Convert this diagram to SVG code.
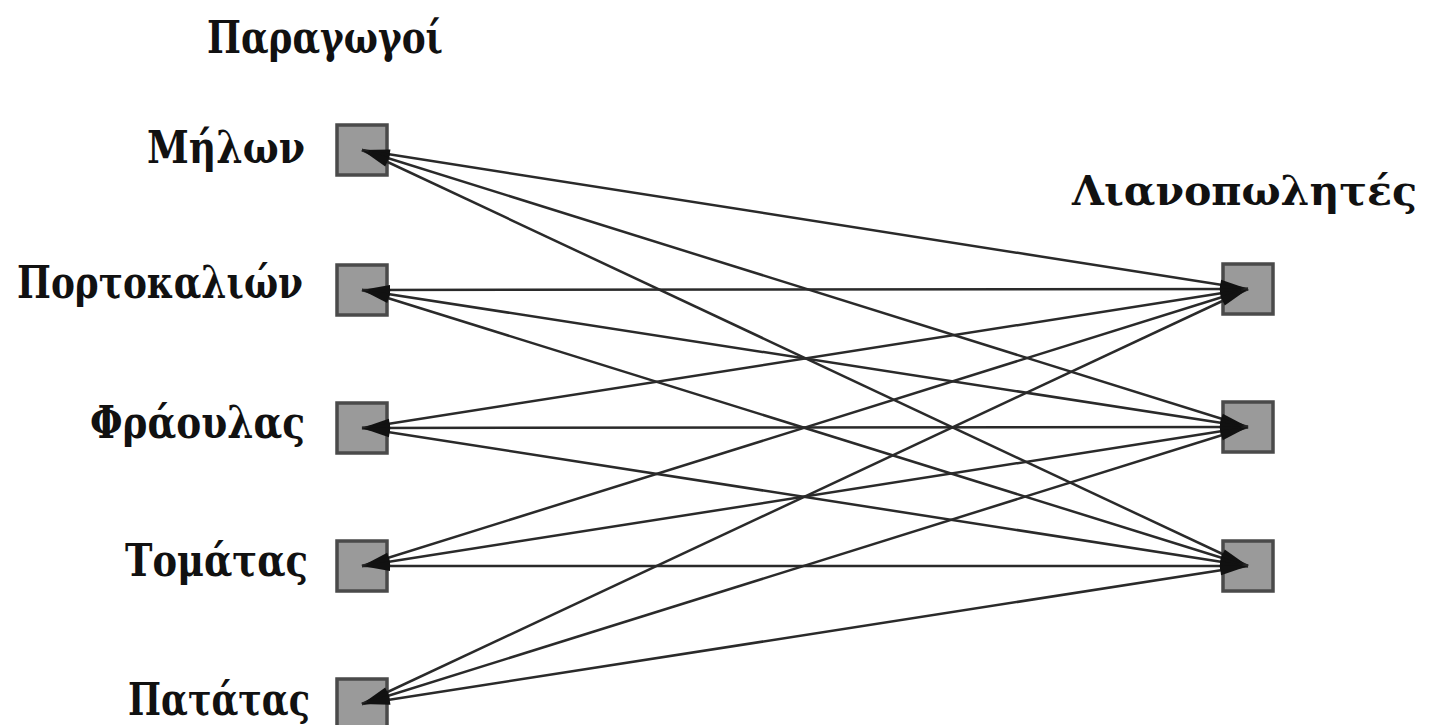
<svg xmlns="http://www.w3.org/2000/svg" width="1435" height="725" viewBox="0 0 1435 725">
<style>
.box{fill:#9a9a9a;stroke:#4a4a4a;stroke-width:3.5}
.lbl{font-family:"DejaVu Serif",serif;font-size:44px;font-weight:bold;fill:#111}
.e{stroke:#2a2a2a;stroke-width:2.5;fill:none;marker-start:url(#ah);marker-end:url(#ah)}
</style>
<defs>
<marker id="ah" markerUnits="userSpaceOnUse" markerWidth="40" markerHeight="20" refX="30" refY="10" orient="auto-start-reverse" viewBox="0 0 40 20">
<path d="M30,10 L2,5 L2,15 Z" fill="#111"/>
</marker>
</defs>
<rect width="1435" height="725" fill="#fff"/>
<text class="lbl" x="207" y="53" textLength="236" lengthAdjust="spacingAndGlyphs">Παραγωγοί</text>
<text class="lbl" x="1072" y="205" style="font-size:41px" textLength="345" lengthAdjust="spacingAndGlyphs">Λιανοπωλητές</text>
<g id="p1"><rect class="box" x="337" y="125" width="50" height="50"/><text class="lbl" x="147" y="163" textLength="158" lengthAdjust="spacingAndGlyphs">Μήλων</text></g>
<g id="p2"><rect class="box" x="337" y="265" width="50" height="50"/><text class="lbl" x="17" y="298" textLength="286" lengthAdjust="spacingAndGlyphs">Πορτοκαλιών</text></g>
<g id="p3"><rect class="box" x="337" y="403" width="50" height="50"/><text class="lbl" x="90" y="438" textLength="215" lengthAdjust="spacingAndGlyphs">Φράουλας</text></g>
<g id="p4"><rect class="box" x="337" y="541" width="50" height="50"/><text class="lbl" x="125" y="576" textLength="183" lengthAdjust="spacingAndGlyphs">Τομάτας</text></g>
<g id="p5"><rect class="box" x="337" y="679" width="50" height="50"/><text class="lbl" x="128" y="715" textLength="182" lengthAdjust="spacingAndGlyphs">Πατάτας</text></g>
<g id="r1"><rect class="box" x="1223" y="264" width="50" height="50"/></g>
<g id="r2"><rect class="box" x="1223" y="402" width="50" height="50"/></g>
<g id="r3"><rect class="box" x="1223" y="541" width="50" height="50"/></g>
<g id="edges">
<line class="e" x1="362" y1="150" x2="1248" y2="289"/>
<line class="e" x1="362" y1="150" x2="1248" y2="427"/>
<line class="e" x1="362" y1="150" x2="1248" y2="566"/>
<line class="e" x1="362" y1="290" x2="1248" y2="289"/>
<line class="e" x1="362" y1="290" x2="1248" y2="427"/>
<line class="e" x1="362" y1="290" x2="1248" y2="566"/>
<line class="e" x1="362" y1="428" x2="1248" y2="289"/>
<line class="e" x1="362" y1="428" x2="1248" y2="427"/>
<line class="e" x1="362" y1="428" x2="1248" y2="566"/>
<line class="e" x1="362" y1="566" x2="1248" y2="289"/>
<line class="e" x1="362" y1="566" x2="1248" y2="427"/>
<line class="e" x1="362" y1="566" x2="1248" y2="566"/>
<line class="e" x1="362" y1="704" x2="1248" y2="289"/>
<line class="e" x1="362" y1="704" x2="1248" y2="427"/>
<line class="e" x1="362" y1="704" x2="1248" y2="566"/>
</g>
</svg>
